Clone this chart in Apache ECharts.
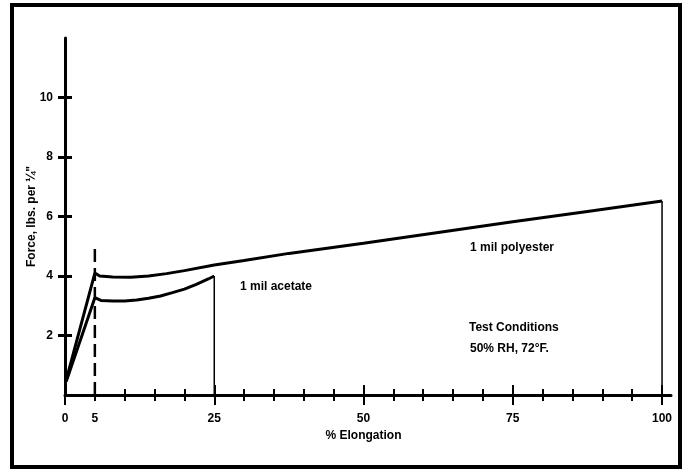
<!DOCTYPE html>
<html><head><meta charset="utf-8">
<script src="https://cdn.jsdelivr.net/npm/echarts@6/dist/echarts.min.js"></script>
<style>html,body{margin:0;padding:0;background:#fff}#c{width:688px;height:469px}</style>
</head><body><div id="c"></div>
<script>
// ---- data ----
const polyesterX = [0.2, 5, 5.8, 8, 11, 14, 17, 20, 25, 30, 37.5, 50, 62.5, 75, 87.5, 100];
const polyesterY = [0.5, 4.1, 4.0, 3.97, 3.96, 4.0, 4.08, 4.18, 4.37, 4.52, 4.76, 5.1, 5.46, 5.82, 6.17, 6.52];
const acetateX = [0.2, 5, 6, 8, 10, 12, 14, 16, 18, 20, 22, 24, 25];
const acetateY = [0.45, 3.27, 3.18, 3.16, 3.16, 3.19, 3.25, 3.33, 3.44, 3.56, 3.72, 3.9, 4.0];
const yieldX = [5, 5];
const yieldY = [0, 5.1];
const xTickLabels = [0, 5, 25, 50, 75, 100];
const yTickLabels = [2, 4, 6, 8, 10];
const annotations = [
  {text: '1 mil polyester', x: 470, y: 248},
  {text: '1 mil acetate', x: 240, y: 287},
  {text: 'Test Conditions', x: 469, y: 328},
  {text: '50% RH, 72°F.', x: 470, y: 349}
];

const pairs = (xs, ys) => xs.map((x, i) => [x, ys[i]]);
const dropFromLast = (xs, ys) => [[xs[xs.length - 1], ys[ys.length - 1]], [xs[xs.length - 1], 0]];

const FONT = '"Liberation Sans", Arial, sans-serif';
const black = '#000';
const lbl = {color: black, fontFamily: FONT, fontWeight: 'bold', fontSize: 12};

const chart = echarts.init(document.getElementById('c'), null, {renderer: 'canvas'});

function xTickAxis(interval, len, inside, labels) {
  return {
    gridIndex: 1, type: 'value', position: 'bottom', offset: 0, min: 0, max: 100, interval: interval,
    axisLine: {show: false, onZero: false},
    axisTick: {show: true, length: len, inside: inside, lineStyle: {color: black, width: 2}},
    axisLabel: labels ? Object.assign({margin: 18, formatter: v => xTickLabels.includes(v) ? String(v) : ''}, lbl) : {show: false},
    splitLine: {show: false}
  };
}
function yTickAxis(inside, labels) {
  return {
    gridIndex: 2, type: 'value', position: 'left', offset: 0, min: yTickLabels[0], max: yTickLabels[yTickLabels.length - 1], interval: 2,
    axisLine: {show: false, onZero: false},
    axisTick: {show: true, length: 7, inside: inside, lineStyle: {color: black, width: 3}},
    axisLabel: labels ? Object.assign({margin: 12}, lbl) : {show: false},
    splitLine: {show: false}
  };
}

const xMain = {
  gridIndex: 1, type: 'value', position: 'bottom', min: 0, max: 100, show: true,
  axisLine: {show: false, onZero: false}, axisTick: {show: false}, axisLabel: {show: false}, splitLine: {show: false},
  name: '% Elongation', nameLocation: 'middle', nameGap: 35, nameTextStyle: lbl
};

chart.setOption({
  backgroundColor: '#fff',
  animation: false,
  grid: [
    {left: 65, right: 17, top: 38, bottom: 74},
    {left: 65, right: 26, top: 38, bottom: 74},
    {left: 65, right: 17, top: 97.5, bottom: 133.5}
  ],
  xAxis: [
    {gridIndex: 0, type: 'value', position: 'bottom', min: 0, max: 101.5,
      axisLine: {show: true, onZero: false, lineStyle: {color: black, width: 3}},
      axisTick: {show: false}, axisLabel: {show: false}, splitLine: {show: false}},
    xTickAxis(5, 6, false, true),
    xTickAxis(5, 6, true, false),
    xTickAxis(25, 10, false, false),
    xTickAxis(25, 10, true, false),
    xMain,
    {gridIndex: 2, type: 'value', show: false, min: 0, max: 100}
  ],
  yAxis: [
    {gridIndex: 0, type: 'value', position: 'left', min: 0, max: 12,
      axisLine: {show: true, onZero: false, lineStyle: {color: black, width: 3}},
      axisTick: {show: false}, axisLabel: {show: false}, splitLine: {show: false},
      name: 'Force, lbs. per ¼"', nameLocation: 'middle', nameGap: 27, nameTextStyle: lbl},
    {gridIndex: 1, type: 'value', show: false, min: 0, max: 12},
    yTickAxis(false, true),
    yTickAxis(true, false)
  ],
  series: [
    {type: 'line', xAxisIndex: 0, yAxisIndex: 0, data: pairs(yieldX, yieldY), symbol: 'none',
      lineStyle: {color: black, width: 2.5, type: [13, 6]}},
    {type: 'line', xAxisIndex: 0, yAxisIndex: 0, data: pairs(polyesterX, polyesterY), symbol: 'none',
      lineStyle: {color: black, width: 3}},
    {type: 'line', xAxisIndex: 0, yAxisIndex: 0, data: pairs(acetateX, acetateY), symbol: 'none',
      lineStyle: {color: black, width: 3}},
    {type: 'line', xAxisIndex: 0, yAxisIndex: 0, data: dropFromLast(polyesterX, polyesterY), symbol: 'none',
      lineStyle: {color: black, width: 1.5}},
    {type: 'line', xAxisIndex: 0, yAxisIndex: 0, data: dropFromLast(acetateX, acetateY), symbol: 'none',
      lineStyle: {color: black, width: 1.5}}
  ],
  graphic: [
    {type: 'rect', shape: {x: 12, y: 5, width: 668, height: 462}, style: {fill: null, stroke: black, lineWidth: 4}, silent: true}
  ].concat(annotations.map(a => ({
    type: 'text', x: a.x, y: a.y, silent: true,
    style: {text: a.text, fill: black, font: 'bold 12px ' + FONT, verticalAlign: 'middle', align: 'left'}
  })))
});
</script>
</body></html>
